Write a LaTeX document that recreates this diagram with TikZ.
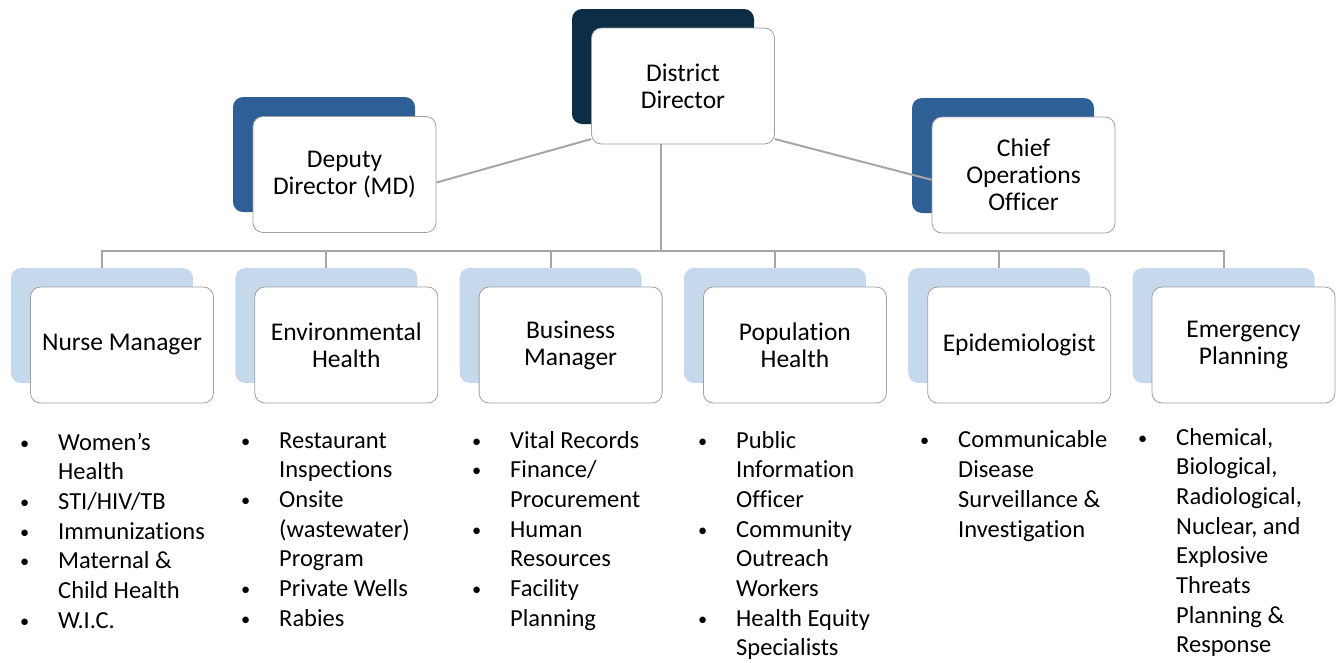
\documentclass[tikz,border=0pt]{standalone}
\usepackage{fontspec}
\setmainfont{Carlito}[Ligatures=NoCommon]
\definecolor{navy}{HTML}{0B2D45}
\definecolor{midblue}{HTML}{2E5F95}
\definecolor{lightblue}{HTML}{C6D8EB}
\definecolor{linegray}{HTML}{A6A6A6}
\definecolor{boxedge}{HTML}{A0A0A0}
\newcommand{\bul}{\raisebox{1pt}{\scalebox{0.75}{\textbullet}}}
\begin{document}
\begin{tikzpicture}[x=1pt,y=-1pt,
  backbox/.style={rounded corners=10pt, minimum width=182pt, minimum height=115pt, inner sep=0pt},
  frontbox/.style={draw=boxedge, line width=0.8pt, fill=white, rounded corners=10pt,
    minimum width=183pt, minimum height=116pt, inner sep=0pt, align=center,
    font=\fontsize{25.5}{27}\selectfont},
  conn/.style={draw=linegray, line width=2pt},
  list/.style={anchor=north west, inner sep=0pt, font=\fontsize{24.5}{29.7}\selectfont}
]
\useasboundingbox (0,0) rectangle (1343,662);
% back boxes
\node[backbox, fill=navy] (ddb) at (663,66.5) {};
\node[backbox, fill=midblue] (depb) at (324,154.5) {};
\node[backbox, fill=midblue] (coob) at (1003,155.5) {};
\foreach \i/\n in {0/nmb,1/ehb,2/bmb,3/phb,4/epb,5/emb}{
  \node[backbox, fill=lightblue] (\n) at (102+224.3*\i,325.5) {};
}
% front boxes
\node[frontbox] (dd) at (683,86) {District\\Director};
\node[frontbox] (dep) at (344.5,174.5) {Deputy\\Director (MD)};
\node[frontbox] (coo) at (1023.5,175) {Chief\\Operations\\Officer};
\node[frontbox] (nm) at (122,345) {Nurse Manager};
\node[frontbox] (eh) at (346.3,345) {Environmental\\Health};
\node[frontbox] (bm) at (570.6,345) {Business\\Manager};
\node[frontbox] (ph) at (794.9,345) {Population\\Health};
\node[frontbox] (ep) at (1019.2,345) {Epidemiologist};
\node[frontbox] (em) at (1243.5,345) {Emergency\\Planning};
% connectors
\coordinate (bus) at (661,251);
\draw[conn] (dd.210.7) -- (dep.-5);
\draw[conn] (dd.-30.7) -- (coo.183);
\draw[conn] (dd.south -| bus) -- (bus);
\draw[conn] (nmb.north) -- (nmb.north |- bus) -- (emb.north |- bus) -- (emb.north);
\foreach \n in {ehb,bmb,phb,epb}{
  \draw[conn] (\n.north |- bus) -- (\n.north);
}
% lists
\node[list] (l1) at (20,429) {\begin{tabular}{@{}p{38pt}@{}l@{}}
\bul & Women’s\\ & Health\\ \bul & STI/HIV/TB\\ \bul & Immunizations\\
\bul & Maternal \&\\ & Child Health\\ \bul & W.I.C.\end{tabular}};
\node[list] (l2) at (241,427) {\begin{tabular}{@{}p{38pt}@{}l@{}}
\bul & Restaurant\\ & Inspections\\ \bul & Onsite\\ & (wastewater)\\
 & Program\\ \bul & Private Wells\\ \bul & Rabies\end{tabular}};
\node[list] (l3) at (472,427) {\begin{tabular}{@{}p{38pt}@{}l@{}}
\bul & Vital Records\\ \bul & Finance/\\ & Procurement\\ \bul & Human\\
 & Resources\\ \bul & Facility\\ & Planning\end{tabular}};
\node[list] (l4) at (698,427) {\begin{tabular}{@{}p{38pt}@{}l@{}}
\bul & Public\\ & Information\\ & Officer\\ \bul & Community\\
 & Outreach\\ & Workers\\ \bul & Health Equity\\ & Specialists\end{tabular}};
\node[list] (l5) at (920,427) {\begin{tabular}{@{}p{38pt}@{}l@{}}
\bul & Communicable\\ & Disease\\ & Surveillance \&\\ & Investigation\end{tabular}};
\node[list] (l6) at (1138,424) {\begin{tabular}{@{}p{38pt}@{}l@{}}
\bul & Chemical,\\ & Biological,\\ & Radiological,\\ & Nuclear, and\\
 & Explosive\\ & Threats\\ & Planning \&\\ & Response\end{tabular}};
\end{tikzpicture}
\end{document}
